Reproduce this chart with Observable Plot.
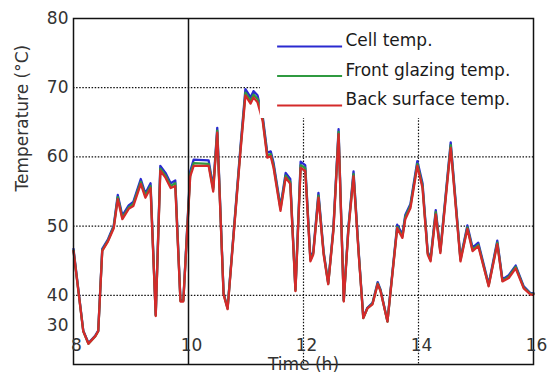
<!DOCTYPE html>
<html>
<head>
<meta charset="utf-8">
<script src="https://cdn.jsdelivr.net/npm/d3@7"></script>
<script src="https://cdn.jsdelivr.net/npm/@observablehq/plot@0.6"></script>
<style>
  html, body { margin: 0; padding: 0; background: #fff; }
</style>
</head>
<body>
<div id="chart"></div>
<script>
const times = [8.00,8.17,8.26,8.38,8.43,8.50,8.60,8.70,8.77,8.85,8.96,9.04,9.17,9.25,9.34,9.43,9.51,9.60,9.69,9.77,9.86,9.91,10.03,10.09,10.35,10.43,10.50,10.61,10.68,10.90,10.99,11.08,11.13,11.20,11.29,11.37,11.43,11.48,11.60,11.69,11.77,11.86,11.95,12.03,12.12,12.17,12.26,12.35,12.43,12.52,12.61,12.70,12.78,12.87,12.96,13.04,13.11,13.20,13.29,13.34,13.46,13.63,13.72,13.77,13.86,13.98,14.07,14.16,14.21,14.30,14.38,14.56,14.73,14.85,14.94,15.04,15.22,15.37,15.46,15.57,15.69,15.83,15.95,16.00];

const cellTemp = [46.7,34.9,33.1,34.2,34.9,46.7,48.1,50.1,54.5,51.5,
  53.0,53.5,56.8,54.7,56.2,37.2,58.7,57.7,56.2,56.6,
  39.3,39.3,57.9,59.6,59.5,55.6,64.2,40.3,38.2,61.1,
  69.8,68.6,69.5,68.9,65.9,60.6,60.8,59.1,52.8,57.7,
  56.8,40.8,59.3,58.8,45.3,46.3,54.8,46.3,41.8,49.8,
  64.0,39.3,49.8,57.9,46.3,36.8,38.2,38.9,41.9,40.8,
  36.3,50.2,48.8,51.6,53.2,59.4,56.2,46.3,45.3,52.3,
  46.5,62.1,45.3,50.1,46.9,47.6,41.6,47.9,42.3,42.9,
  44.3,41.3,40.3,40.3];

const frontTemp = [46.5,34.8,33.0,34.1,34.8,46.5,47.9,49.9,54.2,51.2,
  52.7,53.2,56.4,54.4,55.8,37.1,58.3,57.3,55.8,56.2,
  39.2,39.2,57.5,59.1,59.0,55.3,63.8,40.2,38.1,60.7,
  69.3,68.1,69.0,68.4,65.5,60.2,60.4,58.7,52.5,57.3,
  56.4,40.7,58.8,58.4,45.1,46.1,54.4,46.1,41.7,49.5,
  63.6,39.2,49.5,57.5,46.1,36.7,38.1,38.8,41.7,40.7,
  36.2,49.9,48.5,51.3,52.9,59.0,55.8,46.1,45.1,52.0,
  46.3,61.7,45.1,49.8,46.6,47.3,41.4,47.6,42.1,42.7,
  44.1,41.1,40.2,40.2];

const backTemp = [46.4,34.8,33.0,34.1,34.8,46.4,47.8,49.7,53.9,51.0,
  52.5,52.9,56.1,54.1,55.5,37.0,58.0,57.0,55.5,55.8,
  39.1,39.1,57.2,58.7,58.7,55.0,63.5,40.1,38.0,60.4,
  68.9,67.7,68.6,67.9,65.2,59.9,60.1,58.4,52.2,57.0,
  56.1,40.6,58.4,58.0,44.9,45.9,54.1,45.9,41.6,49.3,
  63.3,39.1,49.3,57.2,45.9,36.7,38.1,38.7,41.6,40.6,
  36.2,49.7,48.3,51.0,52.6,58.7,55.5,45.9,44.9,51.7,
  46.1,61.3,44.9,49.6,46.4,47.1,41.3,47.4,42.0,42.5,
  43.9,41.0,40.1,40.1];

const seriesNames = ["Cell temp.", "Front glazing temp.", "Back surface temp."];
const seriesColors = ["#2a2ad0", "#2f9a40", "#d42a2a"];
const yTicks = [40, 50, 60, 70, 80];
const xTicks = [8, 10, 12, 14, 16];
const yLowLabel = ["30"];
const xTitle = "Time (h)";
const yTitle = "Temperature (°C)";

const seriesValues = [cellTemp, frontTemp, backTemp];
const rows = seriesNames.flatMap((name, i) =>
  times.map((t, j) => ({series: name, t, v: seriesValues[i][j]})));

// layout (pixels -> data units: 6.92 px per °C, 57.5 px per hour)
const legendTop = 75.95, legendStep = 4.27;
const legendRows = seriesNames.map((name, i) => ({series: name, y: legendTop - i * legendStep}));

const chart = Plot.plot({
  width: 551,
  height: 374,
  marginLeft: 73,
  marginRight: 18,
  marginTop: 18,
  marginBottom: 10,
  style: {fontFamily: "DejaVu Sans", fontSize: "17px", background: "white", color: "#222"},
  x: {domain: [8, 16], axis: null},
  y: {domain: [30, 80], axis: null},
  color: {domain: seriesNames, range: seriesColors},
  marks: [
    // dotted grid
    Plot.ruleY([40, 50, 60, 70], {stroke: "#111", strokeWidth: 1.2, strokeDasharray: "1.5,1.6"}),
    Plot.ruleX([12, 14], {stroke: "#111", strokeWidth: 1.2, strokeDasharray: "1.5,1.6"}),
    // data
    Plot.line(rows, {x: "t", y: "v", z: "series", stroke: "series", strokeWidth: 2.3, strokeLinejoin: "round"}),
    // legend box (white, hides what's under it)
    Plot.rect([0], {x1: 11.25, x2: 16, y1: 65.55, y2: 80, fill: "white"}),
    Plot.ruleY(legendRows, {y: "y", x1: 11.55, x2: 12.68, stroke: "series", strokeWidth: 2}),
    Plot.text(legendRows, {x: 12.73, y: "y", text: "series", textAnchor: "start", dy: -6, fill: "#1a1a1a"}),
    // solid vertical at 10 and frame
    Plot.ruleX([10], {stroke: "#111", strokeWidth: 1.5}),
    Plot.frame({stroke: "#111", strokeWidth: 1.5}),
    // y tick labels
    Plot.axisY(yTicks, {tickSize: 0, tickPadding: 5, label: null, fontSize: 17, fill: "#333"}),
    Plot.text(yLowLabel, {x: 8, y: 35.6, text: d => d, textAnchor: "end", dx: -5, fill: "#333"}),
    // x tick labels drawn inside the frame
    Plot.text(xTicks, {x: d => d, y: 32.75, text: d => String(d), dx: 3, fill: "#333"}),
    // axis titles
    Plot.text([xTitle], {frameAnchor: "bottom", lineAnchor: "middle", text: d => d, dy: 0, fill: "#333"}),
    Plot.text([yTitle], {frameAnchor: "left", text: d => d, rotate: -90, dx: -51, fill: "#333"})
  ]
});
document.getElementById("chart").appendChild(chart);
</script>
</body>
</html>
